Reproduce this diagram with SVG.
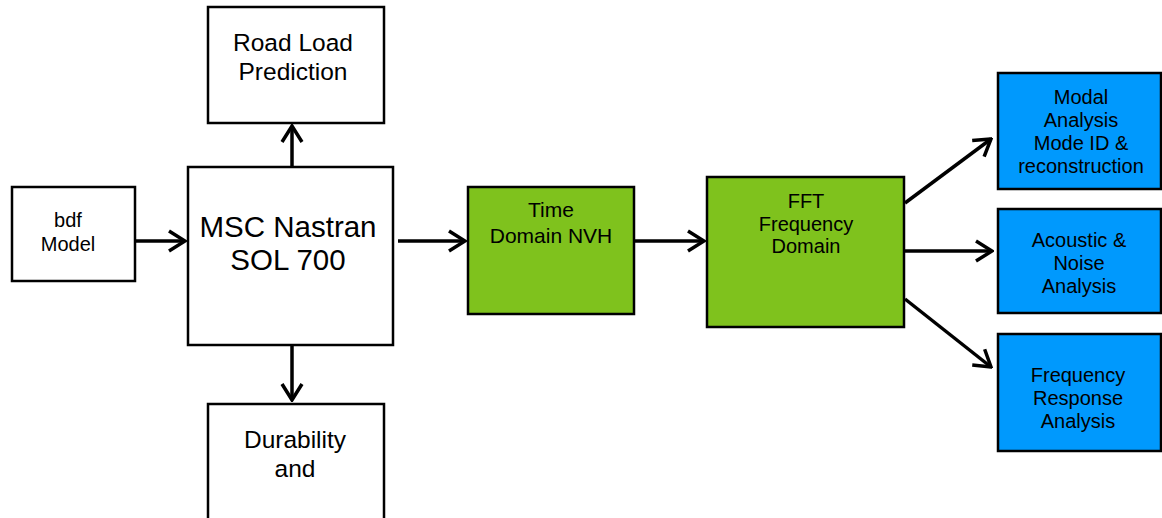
<svg xmlns="http://www.w3.org/2000/svg" width="1162" height="518" viewBox="0 0 1162 518">
<defs>
<style>
.box{stroke:#000;stroke-width:2.5}
.w{fill:#fff}
.g{fill:#7fc21d}
.b{fill:#0099fd}
text{font-family:"Liberation Sans",Arial,sans-serif;fill:#000;text-anchor:middle}
.con line{stroke:#000;stroke-width:3.5;marker-end:url(#ah)}
</style>
<marker id="ah" viewBox="-20 -12 22 24" markerWidth="22" markerHeight="24" refX="0" refY="0" orient="auto" markerUnits="userSpaceOnUse">
<path d="M-16,-10 L0,0 L-16,10" fill="none" stroke="#000" stroke-width="3.5"/>
</marker>
</defs>
<rect width="1162" height="518" fill="#fff"/>
<g id="bdf">
<rect class="box w" x="12" y="187" width="123" height="94"/>
<text x="68" y="227" font-size="20">bdf</text>
<text x="68" y="251" font-size="20">Model</text>
</g>
<g id="msc">
<rect class="box w" x="188" y="167" width="205" height="178"/>
<text x="288" y="237" font-size="29.5">MSC Nastran</text>
<text x="288" y="270" font-size="29.5">SOL 700</text>
</g>
<g id="road">
<rect class="box w" x="208" y="7" width="176" height="116"/>
<text x="293" y="51" font-size="24.5">Road Load</text>
<text x="293" y="80" font-size="24.5">Prediction</text>
</g>
<g id="durability">
<rect class="box w" x="208" y="404" width="176" height="130"/>
<text x="295" y="448" font-size="24.5">Durability</text>
<text x="295" y="477" font-size="24.5">and</text>
</g>
<g id="time">
<rect class="box g" x="468" y="187" width="166" height="127"/>
<text x="551" y="217" font-size="21">Time</text>
<text x="551" y="243" font-size="21">Domain NVH</text>
</g>
<g id="fft">
<rect class="box g" x="707" y="177" width="197" height="150"/>
<text x="806" y="208" font-size="20">FFT</text>
<text x="806" y="231" font-size="20">Frequency</text>
<text x="806" y="253" font-size="20">Domain</text>
</g>
<g id="modal">
<rect class="box b" x="998" y="73" width="163" height="116"/>
<text x="1081" y="104" font-size="20">Modal</text>
<text x="1081" y="127" font-size="20">Analysis</text>
<text x="1081" y="150" font-size="20">Mode ID &amp;</text>
<text x="1081" y="173" font-size="20">reconstruction</text>
</g>
<g id="acoustic">
<rect class="box b" x="998" y="209" width="163" height="104"/>
<text x="1079" y="247" font-size="20">Acoustic &amp;</text>
<text x="1079" y="270" font-size="20">Noise</text>
<text x="1079" y="293" font-size="20">Analysis</text>
</g>
<g id="freqresp">
<rect class="box b" x="998" y="334" width="163" height="117"/>
<text x="1078" y="382" font-size="20">Frequency</text>
<text x="1078" y="405" font-size="20">Response</text>
<text x="1078" y="428" font-size="20">Analysis</text>
</g>
<g id="connectors" class="con">
<line x1="136" y1="241" x2="185" y2="241"/>
<line x1="292" y1="166" x2="292" y2="126"/>
<line x1="292" y1="346" x2="292" y2="400"/>
<line x1="398" y1="241" x2="465" y2="241"/>
<line x1="635" y1="241" x2="704" y2="241"/>
<line x1="905" y1="203" x2="991" y2="139"/>
<line x1="905" y1="251" x2="992" y2="251"/>
<line x1="905" y1="299" x2="991" y2="367"/>
</g>
</svg>
